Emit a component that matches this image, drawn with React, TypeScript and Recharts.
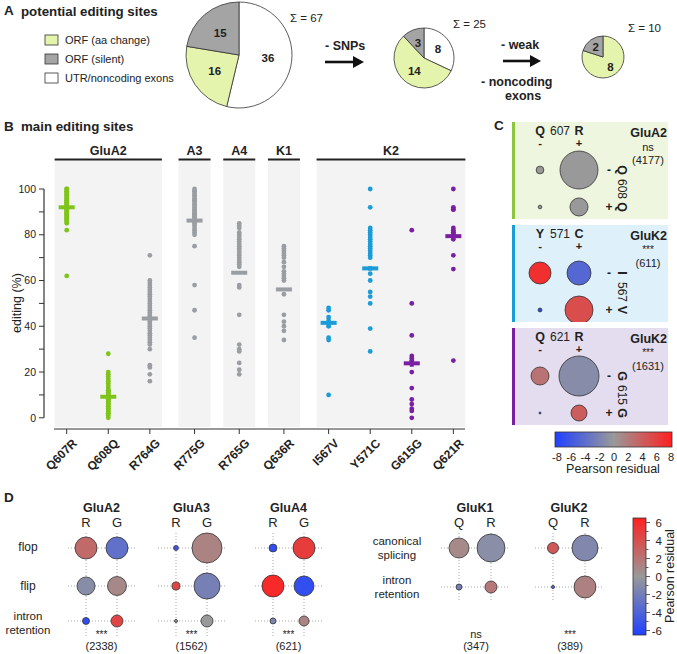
import React from 'react';
import { PieChart, Pie, Cell, ScatterChart, Scatter, XAxis, YAxis, ReferenceLine, ReferenceArea, ErrorBar } from 'recharts';

const FONT = '"Liberation Sans", Arial, Helvetica, sans-serif';

// ---------------- Panel A data ----------------
const legendLabels = ['ORF (aa change)', 'ORF (silent)', 'UTR/noncoding exons'];
const legendKeys = ['aa', 'silent', 'utr'];
const pieAll = [{ key: 'utr', value: 36 }, { key: 'aa', value: 16 }, { key: 'silent', value: 15 }];
const pieNoSnp = [{ key: 'utr', value: 8 }, { key: 'aa', value: 14 }, { key: 'silent', value: 3 }];
const pieStrong = [{ key: 'aa', value: 8 }, { key: 'silent', value: 2 }];
const pieFill: Record<string, string> = { aa: '#e5f4ad', silent: '#a4a4a4', utr: '#ffffff' };

// ---------------- Panel B data ----------------
const sites = ['Q607R', 'Q608Q', 'R764G', 'R775G', 'R765G', 'Q636R', 'I567V', 'Y571C', 'G615G', 'Q621R'];
const siteN = [33, 33, 35, 34, 28, 19, 8, 23, 14, 15];
const siteGroup = [0, 0, 0, 1, 2, 3, 4, 4, 4, 4];
const groupNames = ['GluA2', 'A3', 'A4', 'K1', 'K2'];
const siteColor = ['green', 'green', 'gray', 'gray', 'gray', 'gray', 'blue', 'blue', 'purple', 'purple'];
const editQ607R = [100, 100, 99, 99, 98, 98, 97, 97, 96, 96, 95, 95, 94, 94, 93, 93, 92, 92, 91, 91, 90, 90, 89, 89, 88, 88, 87, 87, 86, 86, 85, 82, 62];
const editQ608Q = [28, 20, 19, 18, 17, 16, 15, 14, 13, 12, 12, 11, 11, 10, 10, 9, 9, 8, 8, 7, 7, 6, 6, 5, 5, 4, 4, 3, 3, 2, 2, 1, 0];
const editR764G = [71, 60, 59, 58, 57, 56, 55, 54, 53, 52, 51, 50, 49, 48, 47, 46, 45, 44, 43, 42, 41, 40, 39, 38, 37, 36, 35, 34, 33, 32, 30, 23, 22, 19, 16];
const editR775G = [100, 99, 99, 98, 97, 97, 96, 95, 95, 94, 93, 93, 92, 91, 91, 90, 90, 89, 89, 88, 88, 87, 86, 86, 85, 84, 83, 82, 81, 80, 75, 58, 47, 35];
const editR765G = [85, 84, 83, 81, 80, 79, 78, 77, 76, 75, 74, 73, 72, 71, 70, 69, 68, 67, 66, 58, 57, 45, 32, 30, 29, 24, 21, 19];
const editQ636R = [75, 74, 73, 72, 71, 70, 68, 66, 64, 63, 62, 61, 60, 54, 45, 42, 40, 38, 34];
const editI567V = [48, 47, 44, 42, 40, 35, 34, 10];
const editY571C = [100, 92, 83, 82, 81, 80, 79, 78, 77, 76, 75, 74, 73, 72, 71, 70, 63, 60, 55, 53, 50, 39, 29];
const editG615G = [82, 50, 36, 27, 26, 25, 24, 20, 13, 8, 6, 4, 3, 0];
const editQ621R = [100, 92, 91, 91, 83, 82, 81, 81, 80, 80, 79, 78, 71, 65, 25];
const editValues = [editQ607R, editQ608Q, editR764G, editR775G, editR765G, editQ636R, editI567V, editY571C, editG615G, editQ621R];
const meanEditing = [92, 9.2, 43.4, 86.2, 63.4, 56.1, 41.5, 65.3, 23.8, 79.4];
const semEditing = [3.2, 3.6, 2.2, 1.8, 0, 0, 2.2, 1, 1.5, 1];
const yTicks = [0, 10, 20, 30, 40, 50, 60, 70, 80, 90, 100];

// ---------------- Panel C data ----------------
const cGluA2Counts = [136, 3270, 30, 741];
const cGluA2Resid = [0, 0, 0, 0];
const cGluK2aCounts = [159, 189, 5, 258];
const cGluK2aResid = [7, -4.5, -7, 5];
const cGluK2bCounts = [242, 1195, 3, 191];
const cGluK2bResid = [2.5, -1.2, -6.5, 4];
const residTicksC = [-8, -6, -4, -2, 0, 2, 4, 6, 8];

// ---------------- Panel D data ----------------
const dRowsA = ['flop', 'flip', 'intron retention'];
const dRowsK = ['canonical splicing', 'intron retention'];
const dGluA2Counts = [613, 613, 411, 456, 62, 183];
const dGluA2Resid = [2.5, -3, -0.9, 0.9, -5.6, 4.5];
const dGluA3Counts = [21, 773, 55, 581, 8, 124];
const dGluA3Resid = [-4.8, 1.2, 4.5, -1.8, -0.3, 0];
const dGluA4Counts = [25, 192, 192, 158, 14, 40];
const dGluA4Resid = [-5.5, 5, 6, -5.5, -1.5, 1.2];
const dGluK1Counts = [102, 199, 9, 37];
const dGluK1Resid = [0.8, -0.8, -2, 1.8];
const dGluK2Counts = [37, 204, 3, 145];
const dGluK2Resid = [3.5, -1.3, -4, 1.3];
const residTicksD = [6, 4, 2, 0, -2, -4, -6];

// ---------------- helpers ----------------
const BLUE = [32, 64, 255];
const GRAY = [153, 153, 153];
const RED = [255, 32, 32];
function resColor(v: number, max: number) {
  const t = Math.max(-1, Math.min(1, v / max));
  const end = t < 0 ? BLUE : RED;
  const a = Math.abs(t);
  const c = GRAY.map((g, i) => Math.round(g + (end[i] - g) * a));
  return `rgb(${c[0]},${c[1]},${c[2]})`;
}
const colorMap: Record<string, string> = { green: '#7fc41a', gray: '#9a9da2', blue: '#1b9bd7', purple: '#7a1fa2' };

// layout for panel B
const GROUP_GAP = 0.075;
const siteX = sites.map((_, i) => i + siteGroup[i] * GROUP_GAP);
const B_LEFT = 44, B_RIGHT = 465;
const B_DOM: [number, number] = [-0.546, 9.58];
const bx = (v: number) => B_LEFT + ((v - B_DOM[0]) / (B_DOM[1] - B_DOM[0])) * (B_RIGHT - B_LEFT);
const groupSpans = groupNames.map((name, g) => {
  const idx = sites.map((_, i) => i).filter((i) => siteGroup[i] === g);
  const pad = idx.length > 1 ? 0.29 : 0.385;
  return { name, x1: siteX[idx[0]] - pad, x2: siteX[idx[idx.length - 1]] + pad };
});

const makePieLabel = (frac: number) => (p: any) => {
  const r = p.outerRadius * frac;
  const a = (-p.midAngle * Math.PI) / 180;
  return (
    <text x={p.cx + r * Math.cos(a)} y={p.cy + r * Math.sin(a)} textAnchor="middle" dominantBaseline="central" fontSize={11.5} fontWeight="bold" fill="#222" fontFamily={FONT}>
      {p.value}
    </text>
  );
};

const SiteTick = (props: any) => {
  const { x, y, payload } = props;
  const i = siteX.findIndex((v) => Math.abs(v - payload.value) < 1e-6);
  return (
    <text x={x + 11} y={y + 8} transform={`rotate(-45 ${x + 11} ${y + 8})`} textAnchor="end" fontSize={12} fontWeight="bold" fill="#222" fontFamily={FONT}>
      {sites[i]}
    </text>
  );
};

type BubbleProps = {
  left: number; top: number; width: number; height: number;
  colPx: number[]; rowPx: number[]; counts: number[]; resid: number[];
  areaPx: number; resMax: number; grid?: boolean; colLabels?: string[];
};

function Bubbles({ left, top, width, height, colPx, rowPx, counts, resid, areaPx, resMax, grid, colLabels }: BubbleProps) {
  const total = counts.reduce((a, b) => a + b, 0);
  const nc = colPx.length;
  const data = counts.map((n, k) => ({ x: colPx[k % nc], y: rowPx[Math.floor(k / nc)], n, res: resid[k] }));
  const labelH = colLabels ? 22 : 0;
  const shape = (p: any) => {
    const r = Math.sqrt((areaPx * p.payload.n) / total);
    return <circle cx={p.cx} cy={p.cy} r={Math.max(r, 0.6)} fill={resColor(p.payload.res, resMax)} stroke="#333" strokeWidth={0.8} />;
  };
  return (
    <div style={{ position: 'absolute', left, top: top - labelH }}>
      <ScatterChart width={width} height={height + labelH} margin={{ top: 0, right: 0, bottom: 0, left: 0 }}>
        <XAxis type="number" dataKey="x" domain={[0, width]} hide={!colLabels} orientation="top" ticks={colPx} interval={0}
          tickFormatter={(v: number) => (colLabels ? colLabels[colPx.indexOf(v)] : '')} axisLine={false} tickLine={false} tickSize={0} tickMargin={6}
          height={labelH} tick={{ fontSize: 13, fill: '#222', fontFamily: FONT }} />
        <YAxis type="number" dataKey="y" domain={[0, height]} reversed hide />
        {grid && colPx.map((c) => <ReferenceLine key={'c' + c} x={c} stroke="#a8a8a8" strokeDasharray="1 2" />)}
        {grid && rowPx.map((r) => <ReferenceLine key={'r' + r} y={r} stroke="#a8a8a8" strokeDasharray="1 2" />)}
        <Scatter data={data} shape={shape} isAnimationActive={false} />
      </ScatterChart>
    </div>
  );
}

const T = { fontFamily: FONT, fill: '#222' } as const;

export default function App() {
  const cBoxes = [
    { top: 122, bg: '#eef6df', bar: '#8cc63f', h: ['Q', '607', 'R'], v: ['Q', '608', 'Q'], gene: 'GluA2', sig: 'ns', n: '(4177)', counts: cGluA2Counts, resid: cGluA2Resid, area: 460 },
    { top: 225, bg: '#def0f9', bar: '#1b9bd7', h: ['Y', '571', 'C'], v: ['I', '567', 'V'], gene: 'GluK2', sig: '***', n: '(611)', counts: cGluK2aCounts, resid: cGluK2aResid, area: 465 },
    { top: 328, bg: '#e4ddef', bar: '#7a1fa2', h: ['Q', '621', 'R'], v: ['G', '615', 'G'], gene: 'GluK2', sig: '***', n: '(1631)', counts: cGluK2bCounts, resid: cGluK2bResid, area: 546 },
  ];
  const dA = [
    { name: 'GluA2', left: 68, counts: dGluA2Counts, resid: dGluA2Resid, area: 461, sig: '***', n: '(2338)' },
    { name: 'GluA3', left: 158, counts: dGluA3Counts, resid: dGluA3Resid, area: 455, sig: '***', n: '(1562)' },
    { name: 'GluA4', left: 255, counts: dGluA4Counts, resid: dGluA4Resid, area: 392, sig: '***', n: '(621)' },
  ];
  const dK = [
    { name: 'GluK1', left: 441, counts: dGluK1Counts, resid: dGluK1Resid, area: 341, sig: 'ns', n: '(347)' },
    { name: 'GluK2', left: 535, counts: dGluK2Counts, resid: dGluK2Resid, area: 322, sig: '***', n: '(389)' },
  ];
  const pieLabel = makePieLabel(0.55);

  return (
    <div style={{ position: 'absolute', left: 0, top: 0, width: 677, height: 654, background: '#fff', overflow: 'hidden', fontFamily: FONT }}>
      {/* Panel C box backgrounds */}
      {cBoxes.map((b, i) => (
        <div key={i} style={{ position: 'absolute', left: 512, top: b.top, width: 156, height: 97, background: b.bg, borderLeft: `3px solid ${b.bar}`, boxSizing: 'border-box' }} />
      ))}

      {/* Panel A pies */}
      <div style={{ position: 'absolute', left: 0, top: 0 }}>
        <PieChart width={677} height={114} margin={{ top: 0, right: 0, bottom: 0, left: 0 }}>
          <Pie data={pieAll} dataKey="value" cx={239} cy={55} outerRadius={53} startAngle={90} endAngle={-270} stroke="#333" strokeWidth={0.8} isAnimationActive={false} label={pieLabel} labelLine={false}>
            {pieAll.map((d) => <Cell key={d.key} fill={pieFill[d.key]} />)}
          </Pie>
          <Pie data={pieNoSnp} dataKey="value" cx={424} cy={58} outerRadius={30} startAngle={90} endAngle={-270} stroke="#333" strokeWidth={0.8} isAnimationActive={false} label={pieLabel} labelLine={false}>
            {pieNoSnp.map((d) => <Cell key={d.key} fill={pieFill[d.key]} />)}
          </Pie>
          <Pie data={pieStrong} dataKey="value" cx={603} cy={57} outerRadius={21} startAngle={90} endAngle={-270} stroke="#333" strokeWidth={0.8} isAnimationActive={false} label={makePieLabel(0.6)} labelLine={false}>
            {pieStrong.map((d) => <Cell key={d.key} fill={pieFill[d.key]} />)}
          </Pie>
        </PieChart>
      </div>

      {/* Panel B strip chart */}
      <div style={{ position: 'absolute', left: 0, top: 150 }}>
        <ScatterChart width={480} height={340} margin={{ top: 9, right: 15, bottom: 1, left: 0 }}>
          <XAxis xAxisId="top" orientation="top" type="number" domain={B_DOM} ticks={siteX} interval={0} height={30}
            tickFormatter={(v: number) => `(${siteN[siteX.findIndex((s) => Math.abs(s - v) < 1e-6)]})`}
            axisLine={false} tickLine={false} tickSize={0} tickMargin={11} tick={{ fontSize: 10.5, fill: '#333', fontFamily: FONT }} />
          <XAxis type="number" dataKey="x" domain={B_DOM} ticks={siteX} interval={0} height={60} axisLine={false}
            tickLine={{ stroke: '#333' }} tickSize={5} tick={<SiteTick />} />
          <YAxis type="number" dataKey="y" domain={[-4.9, 100]} ticks={yTicks} interval={0} width={44} axisLine={false}
            tickLine={{ stroke: '#333' }} tickSize={5} tickMargin={3}
            tickFormatter={(v: number) => (v % 20 === 0 ? String(v) : '')} tick={{ fontSize: 10.5, fill: '#222', fontFamily: FONT }} />
          {groupSpans.map((g) => (
            <ReferenceArea key={g.name} x1={g.x1} x2={g.x2} y1={-4.06} y2={112.6} fill="#f3f3f3" fillOpacity={1} stroke="none" ifOverflow="visible" />
          ))}
          <ReferenceLine segment={[{ x: B_DOM[0], y: 0 }, { x: B_DOM[0], y: 100 }]} stroke="#333" strokeWidth={1.2} ifOverflow="visible" />
          <ReferenceLine segment={[{ x: siteX[0] - 0.305, y: -4.9 }, { x: siteX[9] + 0.28, y: -4.9 }]} stroke="#333" strokeWidth={1.2} ifOverflow="visible" />
          {editValues.map((vals, i) => (
            <Scatter key={'p' + i} data={vals.map((v) => ({ x: siteX[i], y: v }))} isAnimationActive={false}
              shape={(p: any) => <circle cx={p.cx} cy={p.cy} r={2.4} fill={colorMap[siteColor[i]]} />} />
          ))}
          {meanEditing.map((m, i) => (
            <Scatter key={'m' + i} data={[{ x: siteX[i], y: m, err: semEditing[i] }]} isAnimationActive={false}
              shape={(p: any) => <rect x={p.cx - 8} y={p.cy - 2} width={16} height={4} fill={colorMap[siteColor[i]]} />}>
              <ErrorBar dataKey="err" direction="y" width={0} stroke={colorMap[siteColor[i]]} strokeWidth={4} />
            </Scatter>
          ))}
        </ScatterChart>
      </div>

      {/* Panel C bubbles */}
      {cBoxes.map((b, i) => (
        <Bubbles key={'cb' + i} left={515} top={b.top} width={90} height={97} colPx={[25, 64]} rowPx={[48, 85]}
          counts={b.counts} resid={b.resid} areaPx={b.area} resMax={8} />
      ))}

      {/* Panel D bubbles */}
      {dA.map((d) => (
        <Bubbles key={d.name} left={d.left} top={533} width={67} height={105} colPx={[18, 49]} rowPx={[15, 53, 88]}
          counts={d.counts} resid={d.resid} areaPx={d.area} resMax={6.5} grid colLabels={['R', 'G']} />
      ))}
      {dK.map((d) => (
        <Bubbles key={d.name} left={d.left} top={533} width={68} height={69} colPx={[18, 50]} rowPx={[15, 54]}
          counts={d.counts} resid={d.resid} areaPx={d.area} resMax={6.5} grid colLabels={['Q', 'R']} />
      ))}

      {/* Text overlay */}
      <svg width={677} height={654} style={{ position: 'absolute', left: 0, top: 0, pointerEvents: 'none' }}>
        <defs>
          <linearGradient id="gradH" x1="0" y1="0" x2="1" y2="0">
            <stop offset="0" stopColor="rgb(32,64,255)" />
            <stop offset="0.5" stopColor="rgb(153,153,153)" />
            <stop offset="1" stopColor="rgb(255,32,32)" />
          </linearGradient>
          <linearGradient id="gradV" x1="0" y1="1" x2="0" y2="0">
            <stop offset="0" stopColor="rgb(32,64,255)" />
            <stop offset="0.5" stopColor="rgb(153,153,153)" />
            <stop offset="1" stopColor="rgb(255,32,32)" />
          </linearGradient>
        </defs>
        {/* Panel A */}
        <text x={4} y={15} fontSize={13.5} fontWeight="bold" {...T}>A</text>
        <text x={21} y={16} fontSize={13.3} fontWeight="bold" {...T}>potential editing sites</text>
        {legendLabels.map((l, i) => (
          <g key={l}>
            <rect x={45} y={35 + i * 19} width={13} height={10} fill={pieFill[legendKeys[i]]} stroke="#333" strokeWidth={0.8} />
            <text x={65} y={44 + i * 19} fontSize={11} {...T}>{l}</text>
          </g>
        ))}
        <text x={290} y={22} fontSize={11.5} {...T}>Σ = 67</text>
        <text x={453} y={28} fontSize={11.5} {...T}>Σ = 25</text>
        <text x={628} y={32} fontSize={11.5} {...T}>Σ = 10</text>
        <text x={325} y={50} fontSize={12.5} fontWeight="bold" {...T}>- SNPs</text>
        <line x1={325} y1={62} x2={354} y2={62} stroke="#111" strokeWidth={2.6} />
        <polygon points="353,56 364,62 353,68" fill="#111" />
        <text x={501} y={49} fontSize={12.5} fontWeight="bold" {...T}>- weak</text>
        <line x1={503} y1={61} x2={531} y2={61} stroke="#111" strokeWidth={2.6} />
        <polygon points="530,55 541,61 530,67" fill="#111" />
        <text x={481} y={86} fontSize={12.5} fontWeight="bold" {...T}>- noncoding</text>
        <text x={505} y={100} fontSize={12.5} fontWeight="bold" {...T}>exons</text>

        {/* Panel B */}
        <text x={4} y={131} fontSize={13.5} fontWeight="bold" {...T}>B</text>
        <text x={21} y={131} fontSize={13.3} fontWeight="bold" {...T}>main editing sites</text>
        {groupSpans.map((g) => (
          <g key={g.name}>
            <line x1={bx(g.x1)} y1={159.5} x2={bx(g.x2)} y2={159.5} stroke="#222" strokeWidth={1.8} />
            <text x={(bx(g.x1) + bx(g.x2)) / 2} y={155} textAnchor="middle" fontSize={12.5} fontWeight="bold" {...T}>{g.name}</text>
          </g>
        ))}
        <text transform="translate(21 303) rotate(-90)" textAnchor="middle" fontSize={12.5} {...T}>editing (%)</text>

        {/* Panel C */}
        <text x={494} y={130} fontSize={13.5} fontWeight="bold" {...T}>C</text>
        {cBoxes.map((b, i) => (
          <g key={'ct' + i}>
            <text x={540} y={b.top + 13} textAnchor="middle" fontSize={12.5} fontWeight="bold" {...T}>{b.h[0]}</text>
            <text x={560} y={b.top + 13} textAnchor="middle" fontSize={12} {...T}>{b.h[1]}</text>
            <text x={579} y={b.top + 13} textAnchor="middle" fontSize={12.5} fontWeight="bold" {...T}>{b.h[2]}</text>
            <text x={540} y={b.top + 25} textAnchor="middle" fontSize={11} fontWeight="bold" {...T}>-</text>
            <text x={579} y={b.top + 25} textAnchor="middle" fontSize={11} fontWeight="bold" {...T}>+</text>
            <text x={609} y={b.top + 48} textAnchor="middle" dominantBaseline="central" fontSize={12} fontWeight="bold" {...T}>-</text>
            <text x={609} y={b.top + 85} textAnchor="middle" dominantBaseline="central" fontSize={12} fontWeight="bold" {...T}>+</text>
            <text transform={`translate(622 ${b.top + 48}) rotate(90)`} textAnchor="middle" dominantBaseline="central" fontSize={12.5} fontWeight="bold" {...T}>{b.v[0]}</text>
            <text transform={`translate(622 ${b.top + 67}) rotate(90)`} textAnchor="middle" dominantBaseline="central" fontSize={12} {...T}>{b.v[1]}</text>
            <text transform={`translate(622 ${b.top + 85}) rotate(90)`} textAnchor="middle" dominantBaseline="central" fontSize={12.5} fontWeight="bold" {...T}>{b.v[2]}</text>
            <text x={667} y={b.top + 15} textAnchor="end" fontSize={12.5} fontWeight="bold" {...T}>{b.gene}</text>
            <text x={648} y={b.top + (b.sig === 'ns' ? 29 : 28)} textAnchor="middle" fontSize={b.sig === 'ns' ? 11 : 10} {...T}>{b.sig}</text>
            <text x={648} y={b.top + 41.5} textAnchor="middle" fontSize={11} {...T}>{b.n}</text>
          </g>
        ))}
        <rect x={555} y={432} width={117} height={15} fill="url(#gradH)" stroke="#333" strokeWidth={0.8} />
        {residTicksC.map((t, i) => (
          <text key={t} x={557 + i * 14.25} y={461} textAnchor="middle" fontSize={11} {...T}>{t}</text>
        ))}
        <text x={613} y={473} textAnchor="middle" fontSize={12.5} {...T}>Pearson residual</text>

        {/* Panel D */}
        <text x={4} y={502} fontSize={13.5} fontWeight="bold" {...T}>D</text>
        {dA.map((d) => (
          <g key={'dt' + d.name}>
            <text x={d.left + 33.5} y={512} textAnchor="middle" fontSize={12.5} fontWeight="bold" {...T}>{d.name}</text>
            <text x={d.left + 33.5} y={638} textAnchor="middle" fontSize={10} {...T}>{d.sig}</text>
            <text x={d.left + 33.5} y={650} textAnchor="middle" fontSize={11} {...T}>{d.n}</text>
          </g>
        ))}
        {dK.map((d) => (
          <g key={'dt' + d.name}>
            <text x={d.left + 34} y={512} textAnchor="middle" fontSize={12.5} fontWeight="bold" {...T}>{d.name}</text>
            <text x={d.left + 35} y={638} textAnchor="middle" fontSize={d.sig === 'ns' ? 11 : 10} {...T}>{d.sig}</text>
            <text x={d.left + 35} y={650} textAnchor="middle" fontSize={11} {...T}>{d.n}</text>
          </g>
        ))}
        <text x={28} y={551} textAnchor="middle" fontSize={12} {...T}>{dRowsA[0]}</text>
        <text x={28} y={590} textAnchor="middle" fontSize={12} {...T}>{dRowsA[1]}</text>
        <text x={28} y={619.5} textAnchor="middle" fontSize={11.5} {...T}>{dRowsA[2].split(' ')[0]}</text>
        <text x={28} y={633.5} textAnchor="middle" fontSize={11.5} {...T}>{dRowsA[2].split(' ')[1]}</text>
        <text x={397} y={545} textAnchor="middle" fontSize={11.5} {...T}>{dRowsK[0].split(' ')[0]}</text>
        <text x={397} y={559} textAnchor="middle" fontSize={11.5} {...T}>{dRowsK[0].split(' ')[1]}</text>
        <text x={397} y={584} textAnchor="middle" fontSize={11.5} {...T}>{dRowsK[1].split(' ')[0]}</text>
        <text x={397} y={598} textAnchor="middle" fontSize={11.5} {...T}>{dRowsK[1].split(' ')[1]}</text>
        <rect x={633} y={518} width={13} height={117} fill="url(#gradV)" stroke="#333" strokeWidth={0.8} />
        {residTicksD.map((t) => {
          const y = 576.5 - t * 9;
          return (
            <g key={t}>
              <line x1={646} y1={y} x2={650} y2={y} stroke="#333" strokeWidth={0.8} />
              <text x={662} y={y + 4} textAnchor="end" fontSize={11.5} {...T}>{t}</text>
            </g>
          );
        })}
        {[5, 3, 1, -1, -3, -5].map((t) => (
          <line key={'m' + t} x1={646} y1={576.5 - t * 9} x2={648.5} y2={576.5 - t * 9} stroke="#333" strokeWidth={0.8} />
        ))}
        <text transform="translate(674 576) rotate(-90)" textAnchor="middle" fontSize={12.5} {...T}>Pearson residual</text>
      </svg>
    </div>
  );
}
